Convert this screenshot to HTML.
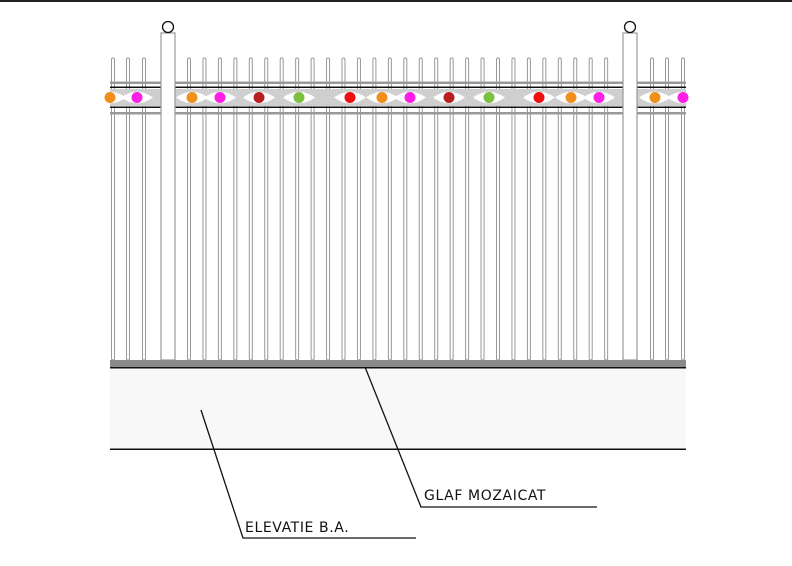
<!DOCTYPE html>
<html><head><meta charset="utf-8"><style>
html,body{margin:0;padding:0;background:#fff;width:792px;height:566px;overflow:hidden}
svg{display:block}
text{font-family:"DejaVu Sans","Liberation Sans",sans-serif;font-size:14px;letter-spacing:0.6px;fill:#111}
</style></head><body>
<svg id="s" width="792" height="566" viewBox="0 0 792 566" xmlns="http://www.w3.org/2000/svg">
<rect x="0" y="0" width="792" height="2" fill="#222"/>
<g id="pk"></g>
<rect x="110" y="81.5" width="576" height="2.5" fill="#999"/>
<rect x="110" y="86.5" width="576" height="1.5" fill="#111"/>
<rect x="110" y="89" width="576" height="17" fill="#cfcfcf"/>
<g id="eyes"></g>
<rect x="110" y="106.5" width="576" height="1.5" fill="#111"/>
<rect x="110" y="112" width="576" height="2.5" fill="#999"/>
<g id="posts"></g>
<rect x="110" y="360" width="576" height="7" fill="#8a8a8a"/>
<rect x="110" y="367" width="576" height="1.5" fill="#111"/>
<rect x="110" y="368.5" width="576" height="80" fill="#f8f8f8"/>
<rect x="110" y="448.5" width="576" height="1.5" fill="#111"/>
<polyline points="365,367 421,507 597,507" fill="none" stroke="#111" stroke-width="1.3"/>
<polyline points="201,410 243,538 416,538" fill="none" stroke="#111" stroke-width="1.3"/>
<text x="424" y="500">GLAF MOZAICAT</text>
<text x="245" y="532">ELEVATIE B.A.</text>
</svg>
<script>
var ns="http://www.w3.org/2000/svg";
function el(p,t,a){var e=document.createElementNS(ns,t);for(var k in a)e.setAttribute(k,a[k]);p.appendChild(e);return e;}
var pk=document.getElementById("pk");
var xs=[113,128,144];
for(var i=0;i<28;i++)xs.push(189+i*15.45);
xs.push(652,667,683);
xs.forEach(function(x){el(pk,"rect",{x:x-1.5,y:58,width:3,height:302,rx:1.5,fill:"#fff",stroke:"#999","stroke-width":1});});
var eyes=document.getElementById("eyes");
var dots=[[110,"#f0901c"],[137,"#ff1ee6"],[192,"#f0901c"],[220,"#ff1ee6"],[259,"#b82020"],[299,"#7cc040"],[350,"#ee1010"],[382,"#f0901c"],[410,"#ff1ee6"],[449,"#b82020"],[489,"#7cc040"],[539,"#ee1010"],[571,"#f0901c"],[599,"#ff1ee6"],[655,"#f0901c"],[683,"#ff1ee6"]];
dots.forEach(function(d){
 el(eyes,"path",{d:"M"+(d[0]-16)+" 97.5 Q"+d[0]+" 86 "+(d[0]+16)+" 97.5 Q"+d[0]+" 109 "+(d[0]-16)+" 97.5Z",fill:"#fff"});
 el(eyes,"circle",{cx:d[0],cy:97.5,r:5.5,fill:d[1]});
});
var posts=document.getElementById("posts");
[168,630].forEach(function(x){
 el(posts,"rect",{x:x-7,y:33,width:14,height:327,fill:"#fff",stroke:"#999","stroke-width":1.2});
 el(posts,"circle",{cx:x,cy:27,r:5.5,fill:"#fff",stroke:"#111","stroke-width":1.3});
});
</script>
</body></html>
